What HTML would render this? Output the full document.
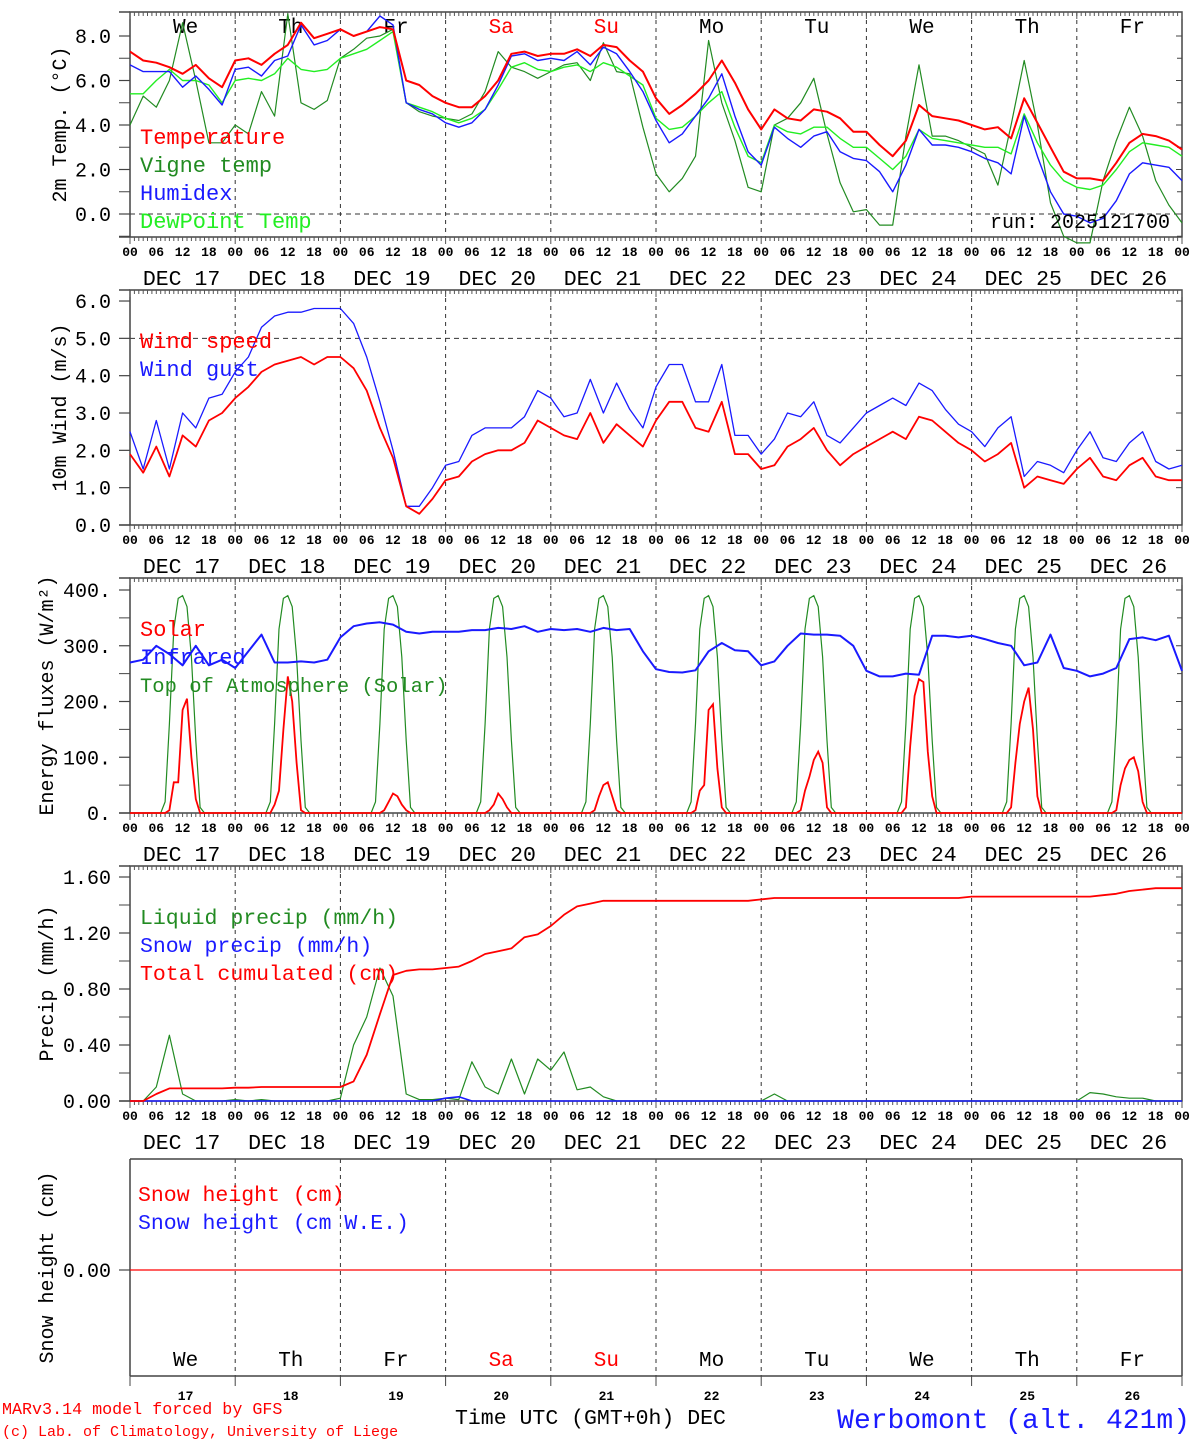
<!DOCTYPE html>
<html><head><meta charset="utf-8"><style>
html,body{margin:0;padding:0;background:#fff;}
svg text{font-family:"Liberation Mono",monospace;}
</style></head><body>
<svg id="c" width="1194" height="1440" xmlns="http://www.w3.org/2000/svg"></svg>
<script>
// ---------- data (3-hourly from DEC 17 00 UTC, 81 points) ----------
const dayNames=["We","Th","Fr","Sa","Su","Mo","Tu","We","Th","Fr"];
const dayNums=["17","18","19","20","21","22","23","24","25","26"];
const hourLabels=["00","06","12","18"];
const tempVals=[7.3,6.9,6.8,6.6,6.3,6.7,6.1,5.7, 6.9,7.0,6.7,7.2,7.6,8.6,7.9,8.1, 8.3,8.0,8.2,8.4,8.3,6.0,5.8,5.3, 5.0,4.8,4.8,5.3,6.0,7.2,7.3,7.1, 7.2,7.2,7.4,7.1,7.6,7.5,6.9,6.4, 5.2,4.5,4.9,5.4,6.0,6.9,5.9,4.7, 3.8,4.7,4.3,4.2,4.7,4.6,4.3,3.7, 3.7,3.1,2.6,3.3,4.9,4.4,4.3,4.2, 4.0,3.8,3.9,3.4,5.2,4.1,3.0,1.9, 1.6,1.6,1.5,2.3,3.2,3.6,3.5,3.3, 2.9];
const vigneVals=[4.0,5.3,4.8,6.0,8.6,6.0,3.2,3.2, 4.0,3.6,5.5,4.4,9.0,5.0,4.7,5.1, 7.0,7.4,7.9,8.0,8.3,5.0,4.6,4.4, 4.3,4.2,4.5,5.5,7.3,6.6,6.4,6.1, 6.4,6.7,6.8,6.0,7.7,6.4,6.3,3.9, 1.8,1.0,1.6,2.6,7.8,5.0,3.3,1.2, 1.0,4.0,4.3,5.0,6.1,3.6,1.4,0.1, 0.2,-0.5,-0.5,3.5,6.7,3.5,3.5,3.3, 3.0,2.7,1.3,4.0,6.9,4.0,0.5,-1.0, -1.3,-1.3,1.5,3.3,4.8,3.5,1.5,0.4, -0.4];
const humidexVals=[6.7,6.4,6.4,6.4,5.7,6.2,5.6,4.9, 6.5,6.6,6.2,6.9,7.1,8.5,7.6,7.8, 8.3,8.0,8.2,8.9,8.5,5.0,4.7,4.5, 4.1,3.9,4.1,4.7,5.8,7.1,7.2,6.9, 7.0,6.9,7.3,6.7,7.5,7.2,6.4,5.5, 4.2,3.2,3.6,4.4,5.2,6.3,4.4,2.8, 2.2,3.9,3.4,3.0,3.5,3.7,2.8,2.5, 2.4,1.9,1.0,2.2,3.8,3.1,3.1,3.0, 2.8,2.5,2.3,1.8,4.4,2.6,1.0,0.0, -0.1,-0.4,-0.2,0.6,1.8,2.3,2.2,2.1, 1.5];
const dewVals=[5.4,5.4,6.0,6.5,6.0,6.0,5.8,5.0, 6.0,6.1,6.0,6.3,7.0,6.5,6.4,6.5, 7.0,7.2,7.4,7.8,8.2,5.0,4.8,4.6, 4.3,4.1,4.3,4.7,5.6,6.6,6.8,6.5, 6.4,6.6,6.7,6.4,6.8,6.6,6.2,5.8, 4.3,3.8,3.9,4.4,5.0,5.5,3.9,2.6, 2.3,4.0,3.7,3.6,3.9,3.9,3.4,3.0, 3.0,2.5,2.0,2.6,3.8,3.4,3.3,3.2, 3.1,3.0,3.0,2.7,4.5,3.2,2.2,1.5, 1.2,1.1,1.3,2.0,2.8,3.2,3.1,3.0, 2.6];
const windVals=[1.9,1.4,2.1,1.3,2.4,2.1,2.8,3.0, 3.4,3.7,4.1,4.3,4.4,4.5,4.3,4.5, 4.5,4.2,3.6,2.6,1.8,0.5,0.3,0.7, 1.2,1.3,1.7,1.9,2.0,2.0,2.2,2.8, 2.6,2.4,2.3,3.0,2.2,2.7,2.4,2.1, 2.8,3.3,3.3,2.6,2.5,3.3,1.9,1.9, 1.5,1.6,2.1,2.3,2.6,2.0,1.6,1.9, 2.1,2.3,2.5,2.3,2.9,2.8,2.5,2.2, 2.0,1.7,1.9,2.2,1.0,1.3,1.2,1.1, 1.5,1.8,1.3,1.2,1.6,1.8,1.3,1.2, 1.2];
const gustVals=[2.5,1.5,2.8,1.5,3.0,2.6,3.4,3.5, 4.1,4.5,5.3,5.6,5.7,5.7,5.8,5.8, 5.8,5.4,4.5,3.3,2.0,0.5,0.5,1.0, 1.6,1.7,2.4,2.6,2.6,2.6,2.9,3.6, 3.4,2.9,3.0,3.9,3.0,3.8,3.1,2.6, 3.7,4.3,4.3,3.3,3.3,4.3,2.4,2.4, 1.9,2.3,3.0,2.9,3.3,2.4,2.2,2.6, 3.0,3.2,3.4,3.2,3.8,3.6,3.1,2.7, 2.5,2.1,2.6,2.9,1.3,1.7,1.6,1.4, 2.0,2.5,1.8,1.7,2.2,2.5,1.7,1.5, 1.6];
const infraredVals=[270,275,300,285,265,300,265,275, 260,290,320,270,270,272,270,275, 315,335,340,342,338,325,322,325, 325,325,328,328,332,330,335,325, 330,328,330,325,332,328,330,290, 258,253,252,256,290,305,292,290, 265,272,300,322,320,320,318,300, 255,245,245,250,248,318,318,315, 318,312,305,300,265,270,320,260, 255,245,250,260,312,315,310,318, 255];
const liquidVals=[0,0,0.1,0.47,0.05,0,0,0, 0.01,0,0.01,0,0,0,0,0, 0.02,0.4,0.6,0.95,0.75,0.05,0.01,0.01, 0.02,0.01,0.28,0.1,0.05,0.3,0.05,0.3, 0.22,0.35,0.08,0.1,0.03,0,0,0, 0,0,0,0,0,0,0,0, 0,0.05,0,0,0,0,0,0, 0,0,0,0,0,0,0,0, 0,0,0,0,0,0,0,0, 0,0.06,0.05,0.03,0.02,0.02,0,0, 0];
const snowPrecipVals=[0,0,0,0,0,0,0,0, 0,0,0,0,0,0,0,0, 0,0,0,0,0,0,0,0, 0.02,0.03,0,0,0,0,0,0, 0,0,0,0,0,0,0,0, 0,0,0,0,0,0,0,0, 0,0,0,0,0,0,0,0, 0,0,0,0,0,0,0,0, 0,0,0,0,0,0,0,0, 0,0,0,0,0,0,0,0, 0];
const cumulVals=[0,0,0.05,0.09,0.09,0.09,0.09,0.09, 0.095,0.095,0.1,0.1,0.1,0.1,0.1,0.1, 0.1,0.14,0.33,0.62,0.9,0.93,0.94,0.94, 0.95,0.96,1.0,1.05,1.07,1.09,1.17,1.19, 1.25,1.33,1.39,1.41,1.43,1.43,1.43,1.43, 1.43,1.43,1.43,1.43,1.43,1.43,1.43,1.43, 1.44,1.45,1.45,1.45,1.45,1.45,1.45,1.45, 1.45,1.45,1.45,1.45,1.45,1.45,1.45,1.45, 1.46,1.46,1.46,1.46,1.46,1.46,1.46,1.46, 1.46,1.46,1.47,1.48,1.50,1.51,1.52,1.52, 1.52];
const snowHeightVals=[0,0,0,0,0,0,0,0,0,0,0];
// hourly radiation for hours 07..17 of each day
const toaRows=[
[0,20,160,330,385,390,370,280,130,10,0],[0,20,160,330,385,390,370,280,130,10,0],
[0,20,160,330,385,390,370,280,130,10,0],[0,20,160,330,385,390,370,280,130,10,0],
[0,20,160,330,385,390,370,280,130,10,0],[0,20,160,330,385,390,370,280,130,10,0],
[0,20,160,330,385,390,370,280,130,10,0],[0,20,160,330,385,390,370,280,130,10,0],
[0,20,160,330,385,390,370,280,130,10,0],[0,20,160,330,385,390,370,280,130,10,0]];
const solarRows=[
[0,0,5,55,55,185,205,100,25,0,0],[0,0,15,40,150,245,200,90,5,0,0],
[0,0,0,5,20,35,30,15,5,0,0],[0,0,0,5,15,35,25,10,0,0,0],
[0,0,0,5,30,50,55,30,5,0,0],[0,0,5,40,50,185,195,80,10,0,0],
[0,0,5,40,65,95,110,90,10,0,0],[0,0,10,120,210,240,235,110,30,0,0],
[0,0,10,90,160,200,225,150,30,0,0],[0,0,5,50,80,95,100,75,20,0,0]];

// ---------- drawing ----------
const NS="http://www.w3.org/2000/svg";
const svg=document.getElementById('c');
const X0=130,X1=1182,HW=(X1-X0)/240;
function xh(h){return X0+h*HW;}
function el(tag,attrs,parent){const e=document.createElementNS(NS,tag);for(const k in attrs)e.setAttribute(k,attrs[k]);(parent||svg).appendChild(e);return e;}
function txt(s,x,y,size,fill,anchor,parent){const t=el('text',{x:x,y:y,'font-size':size,fill:fill,'text-anchor':anchor||'start'},parent);t.textContent=s;return t;}

const panels=[
 {top:12,bot:237,y:v=>214-v*22.25,ticks:[0,2,4,6,8],minor:[-1,1,3,5,7],fmt:v=>v.toFixed(1),title:"2m Temp. (°C)",tx:60,dash:[0]},
 {top:290,bot:525,y:v=>525-v*37.33,ticks:[0,1,2,3,4,5,6],minor:[],fmt:v=>v.toFixed(1),title:"10m Wind (m/s)",tx:60,dash:[5]},
 {top:578,bot:813,y:v=>813-v*0.5575,ticks:[0,100,200,300,400],minor:[50,150,250,350],fmt:v=>v+".",title:"Energy fluxes (W/m²)",tx:47,dash:[]},
 {top:866,bot:1101,y:v=>1101-v*140,ticks:[0,0.4,0.8,1.2,1.6],minor:[0.2,0.6,1.0,1.4],fmt:v=>v.toFixed(2),title:"Precip (mm/h)",tx:47,dash:[]},
 {top:1159,bot:1376,y:v=>1270-v*100,ticks:[0],minor:[],fmt:v=>v.toFixed(2),title:"Snow height (cm)",tx:47,dash:[]}
];
const panelNames=['temperature-panel','wind-panel','energy-panel','precip-panel','snow-panel'];

panels.forEach((p,pi)=>{
 const g=el('g',{});
 
 
 for(let d=1;d<10;d++){const l=el('line',{x1:xh(d*24),x2:xh(d*24),y1:p.top,y2:p.bot,stroke:'#333','stroke-dasharray':'4,4','stroke-width':1},g);
  }
 p.dash.forEach(v=>{const l=el('line',{x1:X0,x2:X1,y1:p.y(v),y2:p.y(v),stroke:'#333','stroke-dasharray':'5,4'},g);
  });
 if(pi<4){
  el('rect',{x:X0,y:p.top,width:X1-X0,height:p.bot-p.top,fill:'none',stroke:'#444','stroke-width':1.5},g);
  el('line',{x1:119,x2:X0,y1:p.top,y2:p.top,stroke:'#444','stroke-width':1.5},g);
  el('line',{x1:119,x2:X0,y1:p.bot,y2:p.bot,stroke:'#444','stroke-width':1.5},g);
  let d='';
  for(let h=0;h<=240;h++){const x=xh(h).toFixed(1);const L=(h%24==0)?7:4;
   d+=`M${x} ${p.top}v${L}M${x} ${p.bot}v${L}`;}
  el('path',{d:d,stroke:'#555','stroke-width':1,fill:'none'},g);
  const hl=el('g',{},g);
  for(let h=0;h<=240;h+=6){txt(hourLabels[(h/6)%4],xh(h),p.bot+19,13,'#000','middle',hl).setAttribute('font-weight','bold');}
  for(let dd=0;dd<10;dd++){const t=txt("DEC "+dayNums[dd],xh(dd*24+12)-1,p.bot+48,21.5,'#000','middle',g);
   }
 } else {
  el('line',{x1:X0,x2:X1,y1:p.top,y2:p.top,stroke:'#444','stroke-width':1.5},g);
  el('line',{x1:X0,x2:X0,y1:p.top,y2:p.bot,stroke:'#444','stroke-width':1.5},g);
  el('line',{x1:X1,x2:X1,y1:p.top,y2:p.bot,stroke:'#444','stroke-width':1.5},g);
  el('line',{x1:X0,x2:X1,y1:p.bot,y2:p.bot,stroke:'#444','stroke-width':1.5},g);
  for(let dd=0;dd<=10;dd++)el('line',{x1:xh(dd*24),x2:xh(dd*24),y1:p.bot,y2:p.bot+10,stroke:'#444'},g);
 }
 p.ticks.forEach(v=>{const y=p.y(v);
  el('line',{x1:119,x2:X0,y1:y,y2:y,stroke:'#444','stroke-width':1.2},g);
  el('line',{x1:X1-6,x2:X1,y1:y,y2:y,stroke:'#444'},g);
  const t=txt(p.fmt(v),111,y+7,20,'#000','end',g);});
 p.minor.forEach(v=>{const y=p.y(v);el('line',{x1:119,x2:X0,y1:y,y2:y,stroke:'#444'},g);el('line',{x1:X1-5,x2:X1,y1:y,y2:y,stroke:'#444'},g);});
 const cy=(p.top+p.bot)/2;
 const tt=txt(p.title,p.tx,cy+6,20,'#000','middle',g);tt.setAttribute('transform',`rotate(-90 ${p.tx} ${cy})`);
 
});

dayNames.forEach((n,i)=>{const c=(i==3||i==4)?'#f00':'#000';
 const t=txt(n,xh(i*24+12)+3,33,21,c,'middle');
 const t2=txt(n,xh(i*24+12)+3,1366,21,c,'middle');
 const t3=txt(dayNums[i],xh(i*24+12)+3,1400,13,'#000','middle');t3.setAttribute('font-weight','bold');
});

function line3h(vals,p,color,w,name){
 const pts=vals.map((v,i)=>xh(i*3).toFixed(1)+','+p.y(v).toFixed(1)).join(' ');
 const l=el('polyline',{points:pts,fill:'none',stroke:color,'stroke-width':w,'stroke-linejoin':'round'});
 return l;}
function lineRows(rows,p,color,w,name){
 const pts=[];
 for(let d=0;d<10;d++){pts.push([d*24,0]);rows[d].forEach((v,k)=>pts.push([d*24+7+k,v]));}
 pts.push([240,0]);
 const s=pts.map(q=>xh(q[0]).toFixed(1)+','+p.y(q[1]).toFixed(1)).join(' ');
 const l=el('polyline',{points:s,fill:'none',stroke:color,'stroke-width':w});
 return l;}

const [P1,P2,P3,P4,P5]=panels;
line3h(vigneVals,P1,'#228B22',1.2,'vigne-temp-line');
line3h(dewVals,P1,'#22ee22',1.4,'dewpoint-line');
line3h(humidexVals,P1,'#1a1aff',1.4,'humidex-line');
line3h(tempVals,P1,'#ff0000',2,'temperature-line');
line3h(gustVals,P2,'#1a1aff',1.3,'wind-gust-line');
line3h(windVals,P2,'#ff0000',1.8,'wind-speed-line');
lineRows(toaRows,P3,'#228B22',1.2,'toa-solar-line');
lineRows(solarRows,P3,'#ff0000',1.8,'solar-line');
line3h(infraredVals,P3,'#1a1aff',2,'infrared-line');
line3h(liquidVals,P4,'#228B22',1.2,'liquid-precip-line');
line3h(snowPrecipVals,P4,'#1a1aff',1.6,'snow-precip-line');
line3h(cumulVals,P4,'#ff0000',1.8,'cumulated-precip-line');
{const pts=snowHeightVals.map((v,i)=>xh(i*24).toFixed(1)+','+P5.y(v)).join(' ');
 const l=el('polyline',{points:pts,fill:'none',stroke:'#ff0000','stroke-width':1.2});
 }

function leg(s,x,y,c,sz){const t=txt(s,x,y,sz||22,c);}
leg("Temperature",140,144,'#ff0000');leg("Vigne temp",140,172,'#228B22');leg("Humidex",140,200,'#1a1aff');leg("DewPoint Temp",140,228,'#22ee22');
leg("Wind speed",140,348,'#ff0000');leg("Wind gust",140,376,'#1a1aff');
leg("Solar",140,636,'#ff0000');leg("Infrared",140,664,'#1a1aff');leg("Top of Atmosphere (Solar)",140,692,'#228B22',20.5);
leg("Liquid precip (mm/h)",140,924,'#228B22',21.5);leg("Snow precip (mm/h)",140,952,'#1a1aff',21.5);leg("Total cumulated (cm)",140,980,'#ff0000',21.5);
leg("Snow height (cm)",138,1201,'#ff0000',21.5);leg("Snow height (cm W.E.)",138,1229,'#1a1aff',21.5);
{const t=txt("run: 2025121700",1170,228,20,'#000','end');}
{const t=txt("MARv3.14 model forced by GFS",2,1414,16.7,'#ff0000');}
{const t=txt("(c) Lab. of Climatology, University of Liege",2,1436,15,'#ff0000');}
{const t=txt("Time UTC (GMT+0h) DEC",455,1424,21.5,'#000');}
{const t=txt("Werbomont (alt. 421m)",1190,1428,28,'#1a1aff','end');}
</script>
</body></html>
